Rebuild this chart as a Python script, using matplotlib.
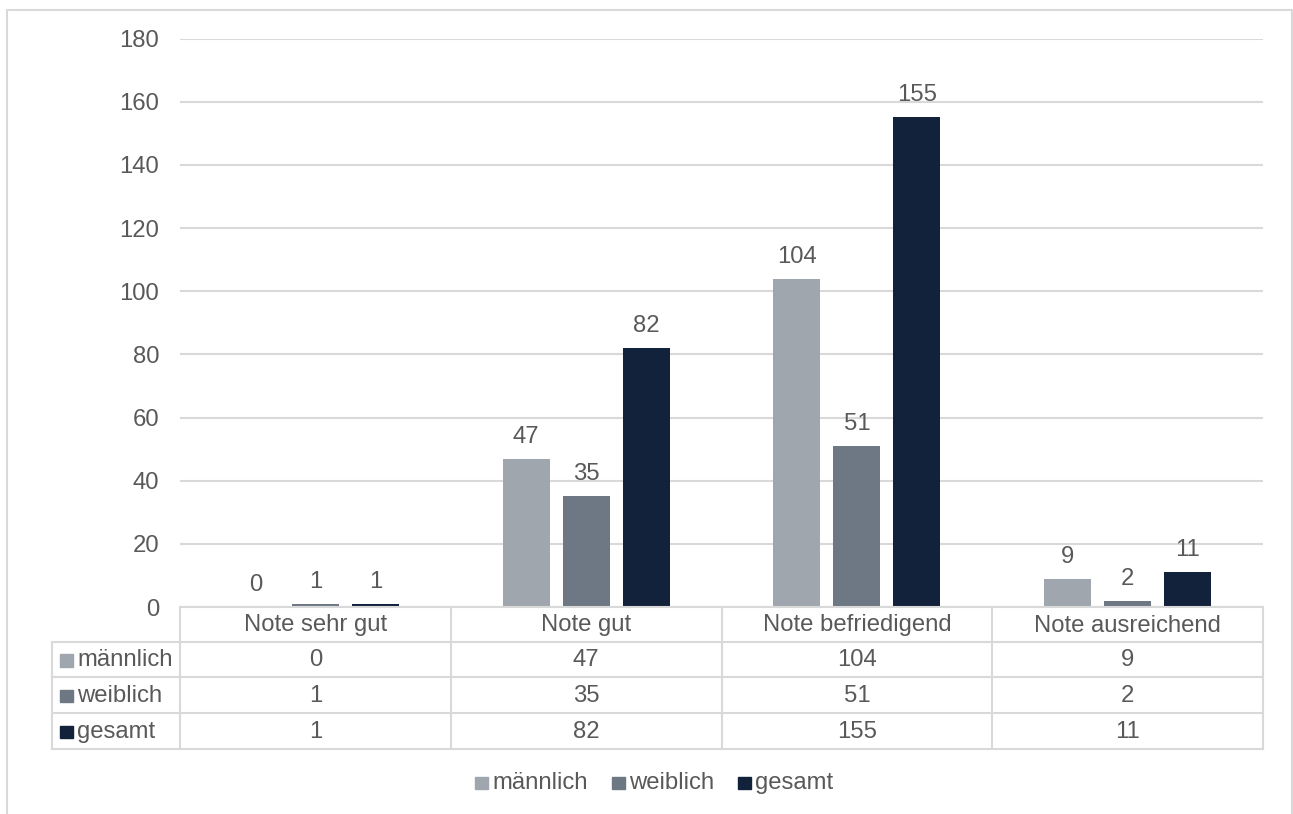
import numpy as np
import matplotlib
matplotlib.use("Agg")
import matplotlib.pyplot as plt
from matplotlib.patches import Rectangle

plt.rcParams['font.family'] = ['Liberation Sans', 'DejaVu Sans']

# ====================== DATA ======================
categories = ["Note sehr gut", "Note gut", "Note befriedigend", "Note ausreichend"]
series_names = ["männlich", "weiblich", "gesamt"]
maennlich = [0, 47, 104, 9]
weiblich = [1, 35, 51, 2]
gesamt = [1, 82, 155, 11]
y_ticks = [0, 20, 40, 60, 80, 100, 120, 140, 160, 180]

colors = ["#A0A6AE", "#6E7884", "#12223A"]
text_col = "#595959"
line_col = "#D9D9D9"
FS = 17.2

W, H = 1293, 814
fig = plt.figure(figsize=(W / 100, H / 100), dpi=100)

# pixel geometry of plot area
px_l, px_r = 180, 1263
px_top, px_bot = 38.5, 607

ax = fig.add_axes([px_l / W, 1 - px_bot / H, (px_r - px_l) / W, (px_bot - px_top) / H])
ax.set_xlim(-0.5, len(categories) - 0.5)
ax.set_ylim(0, 180)
ax.set_yticks(y_ticks)
ax.set_yticklabels([str(t) for t in y_ticks], color=text_col, fontsize=FS)
ax.tick_params(axis='y', length=0, pad=15)
ax.set_xticks([])
for s in ax.spines.values():
    s.set_visible(False)
ax.grid(axis='y', color=line_col, linewidth=1.5)
ax.set_axisbelow(True)
ax.patch.set_alpha(0)

bar_w = 47 / 271
pitch = 60 / 271
data = [maennlich, weiblich, gesamt]
x = np.arange(len(categories))
for k, vals in enumerate(data):
    pos = x + (k - 1) * pitch
    ax.bar(pos, vals, width=bar_w, color=colors[k], zorder=3)
    for xp, v in zip(pos, vals):
        ax.annotate(str(v), (xp, v), xytext=(0, 11.5), textcoords='offset points',
                    ha='center', va='baseline', color=text_col, fontsize=FS)

# ====================== OVERLAY (table, legend, frame) ======================
ov = fig.add_axes([0, 0, 1, 1])
ov.set_xlim(0, W)
ov.set_ylim(H, 0)
ov.axis('off')
ov.patch.set_alpha(0)

# outer frame
ov.plot([7, 7, 1292, 1292], [H, 10, 10, H], color=line_col, linewidth=1.5)

col_edges = np.linspace(px_l, px_r, len(categories) + 1)
row_edges = [607, 642, 677, 713, 749]
lab_l = 52

# horizontal lines
ov.plot([px_l, px_r], [row_edges[0]] * 2, color=line_col, linewidth=1.5)
for yy in row_edges[1:]:
    ov.plot([lab_l, px_r], [yy, yy], color=line_col, linewidth=1.5)
# vertical lines
for xx in col_edges:
    ov.plot([xx, xx], [row_edges[0], row_edges[-1]], color=line_col, linewidth=1.5)
ov.plot([lab_l, lab_l], [row_edges[1], row_edges[-1]], color=line_col, linewidth=1.5)

# header
for i, c in enumerate(categories):
    cx = (col_edges[i] + col_edges[i + 1]) / 2
    ov.text(cx, (row_edges[0] + row_edges[1]) / 2 + 1, c, ha='center', va='center',
            color=text_col, fontsize=FS)

# rows
for r, (name, vals) in enumerate(zip(series_names, data)):
    cy = (row_edges[r + 1] + row_edges[r + 2]) / 2 + 1
    ov.add_patch(Rectangle((60, cy - 6.5), 12.5, 12.5, color=colors[r]))
    ov.text(77, cy, name, ha='left', va='center', color=text_col, fontsize=FS)
    for i, v in enumerate(vals):
        cx = (col_edges[i] + col_edges[i + 1]) / 2
        ov.text(cx, cy, str(v), ha='center', va='center', color=text_col, fontsize=FS)

# legend
leg_x = [475, 612, 738]
leg_y = 783
for k, name in enumerate(series_names):
    ov.add_patch(Rectangle((leg_x[k], leg_y - 6.5), 12.5, 12.5, color=colors[k]))
    ov.text(leg_x[k] + 17, leg_y, name, ha='left', va='center', color=text_col, fontsize=FS)

fig.savefig("out.png", dpi=100)
